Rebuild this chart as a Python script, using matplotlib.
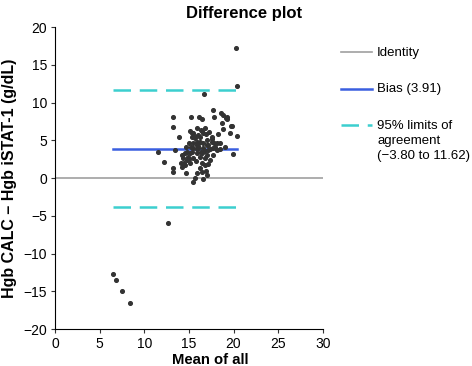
import numpy as np
import matplotlib.pyplot as plt

plt.rcParams['font.family'] = ['Liberation Sans', 'DejaVu Sans']

# mean of all (x) and difference CALC - iSTAT-1 (y)
mean_all = [
    13.25, 13.25, 15.19, 16.16, 16.42, 17.73, 17.80, 18.59, 18.85, 19.22,
    19.30, 18.66, 19.78, 20.42, 19.60, 19.97, 19.04, 18.48, 18.10, 17.55,
    17.28, 16.80, 16.42, 15.87, 15.12, 15.42, 15.30, 15.68, 16.05, 16.61,
    16.98, 16.24, 15.87, 15.04, 14.67, 15.49, 16.05, 16.61, 17.17, 17.73,
    18.10, 18.48, 11.57, 13.44, 14.56, 14.19, 14.37, 14.75, 14.08, 14.19,
    14.56, 15.12, 14.93, 15.49, 16.24, 16.80, 16.98, 17.36, 16.80, 16.24,
    16.42, 15.87, 15.68, 15.49, 16.61, 17.06, 13.25, 13.25, 12.21, 14.67,
    13.92, 15.12, 15.87, 16.42, 17.66, 17.92, 17.17, 16.61, 17.55, 15.87,
    15.49, 19.67, 19.19, 16.69, 20.24, 20.38, 12.62,
    15.30, 15.60, 16.20, 16.40, 16.90, 17.00, 15.90, 16.30, 16.80, 17.40,
    15.40, 15.00, 15.80, 16.50, 17.10, 14.80, 17.80, 18.30, 18.80, 16.00,
    15.20, 17.60, 14.40, 16.90,
    6.46, 6.79, 7.50, 8.36,
]
diff = [
    8.12, 6.80, 8.12, 8.12, 7.77, 9.00, 8.12, 8.65, 8.34, 8.12,
    7.77, 7.24, 6.89, 5.56, 5.92, 3.18, 4.15, 3.80, 4.59, 5.47,
    6.13, 6.58, 6.27, 6.58, 6.27, 5.92, 5.47, 5.25, 5.70, 5.92,
    5.03, 4.81, 4.37, 4.59, 4.15, 3.93, 3.93, 3.93, 3.71, 3.93,
    3.71, 4.68, 3.40, 3.71, 3.27, 3.05, 2.61, 2.38, 1.95, 1.50,
    1.72, 1.95, 2.82, 2.61, 2.82, 2.61, 3.05, 2.38, 1.72, 1.28,
    0.84, 0.62, -0.04, -0.49, -0.13, 0.40, 1.28, 0.84, 2.16, 0.70,
    5.47, 3.27, 3.27, 3.27, 3.05, 4.15, 4.37, 4.59, 4.81, 4.81,
    4.59, 6.89, 7.90, 11.08, 17.26, 12.23, -5.92,
    6.00, 5.60, 5.40, 6.40, 5.80, 4.40, 3.80, 3.50, 3.60, 3.90,
    3.40, 2.50, 2.20, 2.00, 1.80, 3.50, 4.60, 5.80, 6.50, 4.20,
    4.10, 5.20, 2.00, 1.00,
    -12.76, -13.50, -14.90, -16.50,
]

bias = 3.91
loa_low = -3.80
loa_high = 11.62

fig = plt.figure(figsize=(4.72, 3.66), dpi=100)
ax = fig.add_axes([0.1165, 0.101, 0.5675, 0.825])

x_lo, x_hi = min(mean_all), max(mean_all)
ax.plot([0, 30], [0, 0], color='#a0a0a0', lw=1.2, label='Identity', zorder=1)
ax.plot([x_lo, x_hi], [bias, bias], color='#3a5fe0', lw=1.8,
        label='Bias (3.91)', zorder=2)
ax.plot([x_lo, x_hi], [loa_high, loa_high], color='#3ccfcf', lw=1.8,
        linestyle=(0, (7, 3.5)),
        label='95% limits of\nagreement\n(\u22123.80 to 11.62)', zorder=2)
ax.plot([x_lo, x_hi], [loa_low, loa_low], color='#3ccfcf', lw=1.8,
        linestyle=(0, (7, 3.5)), zorder=2)
ax.scatter(mean_all, diff, s=7, color='#333333', zorder=3)

ax.set_xlim(0, 30)
ax.set_ylim(-20, 20)
ax.set_xticks(range(0, 31, 5))
ax.set_yticks(range(-20, 21, 5))
ax.spines['top'].set_visible(False)
ax.spines['right'].set_visible(False)
ax.tick_params(labelsize=10, length=3, color='#333333', pad=2.5)
ax.set_xlabel('Mean of all', fontsize=10.7, fontweight='bold')
ax.xaxis.set_label_coords(0.58, -0.08)
ax.set_ylabel('Hgb CALC \u2013 Hgb iSTAT-1 (g/dL)', fontsize=11.5,
              fontweight='bold')
ax.yaxis.set_label_coords(-0.142, 0.5)
fig.text(0.518, 1 - 13.5 / 366, 'Difference plot', fontsize=12,
         fontweight='bold', ha='center', va='center')

leg = fig.legend(loc='upper left', bbox_to_anchor=(0.711, 0.887),
                 frameon=False, fontsize=9.5, handlelength=2.35,
                 handleheight=1.2, handletextpad=0.4, labelspacing=1.75,
                 borderaxespad=0)
for t in leg.get_texts():
    t.set_linespacing(1.35)
for col in leg._legend_handle_box.get_children():
    for row in col.get_children():
        row.align = 'top'

fig.savefig('out.png', dpi=100)
